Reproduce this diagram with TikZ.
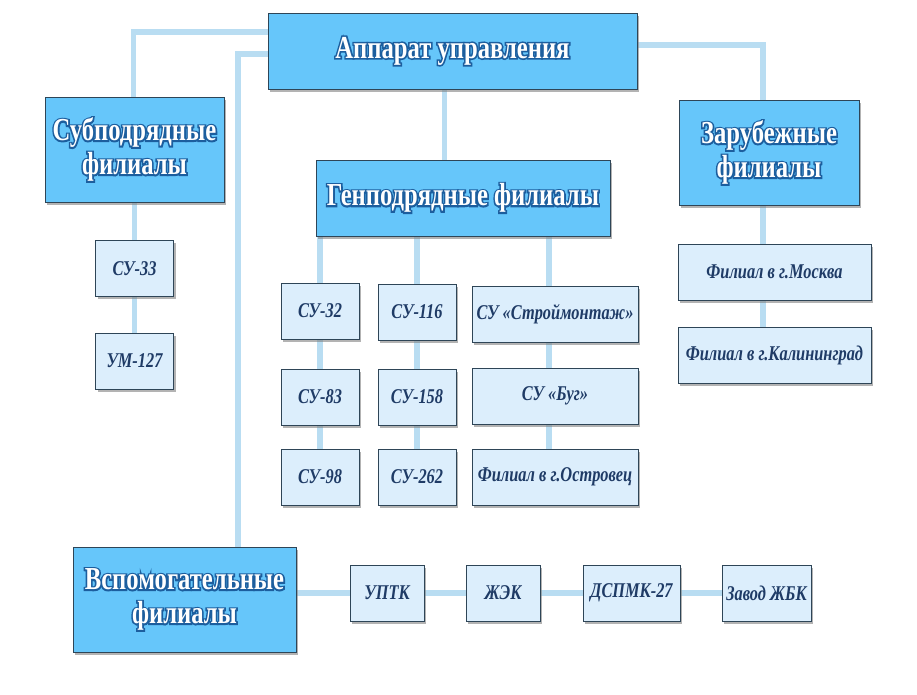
\documentclass[tikz,border=0pt]{standalone}
\usepackage{fontspec}
\usepackage{tikz}
\usetikzlibrary{shapes,shadows,backgrounds}
\newfontfamily\headfont[FakeStretch=0.77]{Liberation Serif}
\newfontfamily\headrim[FakeStretch=0.77, FakeBold=10]{Liberation Serif}
\newfontfamily\unitfont[FakeStretch=0.78]{Liberation Serif}
\definecolor{headblue}{HTML}{66C6FA}
\definecolor{unitblue}{HTML}{DCEEFC}
\definecolor{linkblue}{HTML}{B9DDF2}
\definecolor{boxline}{HTML}{2E4557}
\definecolor{headline}{HTML}{1C5E9E}
\definecolor{unittext}{HTML}{1F3B66}
% white letters on a blue rim
\newcommand{\hd}[1]{\rlap{\color{headline}\headrim\bfseries #1}#1}
\tikzstyle{head} = [rectangle, draw=boxline, fill=headblue, align=center,
    inner sep=0pt, text=white, font=\headfont\bfseries\fontsize{32}{34}\selectfont,
    drop shadow={shadow xshift=2pt, shadow yshift=-3pt, opacity=0.6}]
\tikzstyle{unit} = [rectangle, draw=boxline, fill=unitblue, align=center,
    inner sep=0pt, minimum width=78pt, minimum height=56pt, text=unittext,
    font=\unitfont\bfseries\itshape\fontsize{21}{24}\selectfont,
    drop shadow={shadow xshift=2pt, shadow yshift=-3pt, opacity=0.6}]
\tikzstyle{link} = [draw=linkblue, line width=5.5pt]

\begin{document}
\begin{tikzpicture}[x=1pt, y=1pt]
    \useasboundingbox (0,0) rectangle (917,694);
    % Place nodes
    \node [head, minimum width=369pt, minimum height=76pt] (app) at (452.5,643) {\hd{Аппарат управления}};
    \node [head, minimum width=179pt, minimum height=105pt] (sub) at (134.5,544.5) {\hd{Субподрядные}\\\hd{филиалы}};
    \node [head, minimum width=294pt, minimum height=76pt] (gen) at (463,496) {\hd{Генподрядные филиалы}};
    \node [head, minimum width=180pt, minimum height=105pt] (abroad) at (769,541.5) {\hd{Зарубежные}\\\hd{филиалы}};
    \node [head, minimum width=223pt, minimum height=105pt] (aux) at (184.5,94.5) {\hd{Вспомогательные}\\\hd{филиалы}};
    \node [unit, below of=sub, node distance=119pt] (su33) {СУ-33};
    \node [unit, below of=su33, node distance=92.5pt] (um127) {УМ-127};
    \node [unit] (su32) at (320,383) {СУ-32};
    \node [unit, below of=su32, node distance=86pt] (su83) {СУ-83};
    \node [unit, below of=su83, node distance=80pt] (su98) {СУ-98};
    \node [unit] (su116) at (417,382) {СУ-116};
    \node [unit, below of=su116, node distance=85pt] (su158) {СУ-158};
    \node [unit, below of=su158, node distance=80pt] (su262) {СУ-262};
    \node [unit, minimum width=166pt] (stroy) at (555,380) {СУ «Строймонтаж»};
    \node [unit, minimum width=166pt, below of=stroy, node distance=82pt] (bug) {СУ «Буг»};
    \node [unit, minimum width=166pt, below of=bug, node distance=81pt] (ostr) {Филиал в г.Островец};
    \node [unit, minimum width=193pt] (msk) at (774.5,422) {Филиал в г.Москва};
    \node [unit, minimum width=193pt, below of=msk, node distance=83pt] (kal) {Филиал в г.Калининград};
    \node [unit, minimum width=74pt] (uptk) at (387,101) {УПТК};
    \node [unit, minimum width=74pt, right of=uptk, node distance=116pt] (zhek) {ЖЭК};
    \node [unit, minimum width=97pt, right of=zhek, node distance=128.5pt] (dspmk) {ДСПМК-27};
    \node [unit, minimum width=89pt, right of=dspmk, node distance=135pt] (zbk) {Завод ЖБК};
    % Draw edges
    \begin{pgfonlayer}{background}
    \path [link] ([yshift=19pt]app.west) -| ([xshift=-1pt]sub.north);
    \path [link] ([yshift=-3pt]app.west) -| ([xshift=53.5pt]aux.north);
    \path [link] ([yshift=6pt]app.east) -| ([xshift=-6pt]abroad.north);
    \path [link] ([xshift=-8pt]app.south) -- ([xshift=-8pt]app.south |- gen.north);
    \path [link] (sub) -- (um127);
    \path [link] (su32.north |- gen.south) -- (su98);
    \path [link] (su116.north |- gen.south) -- (su116 |- su262.north);
    \path [link] ([xshift=-6pt]stroy.north |- gen.south) -- ([xshift=-6pt]ostr.north);
    \path [link] ([xshift=-6pt]abroad.south) -- ([xshift=-6pt]abroad.south |- kal.north);
    \path [link] (aux.east |- uptk) -- (zbk);
    \end{pgfonlayer}
\end{tikzpicture}
\end{document}
